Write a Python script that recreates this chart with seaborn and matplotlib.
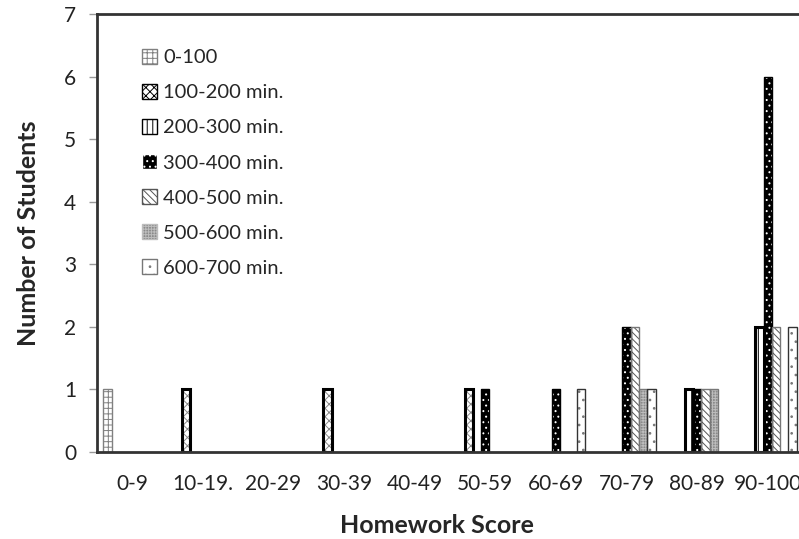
import matplotlib
matplotlib.use("Agg")
import matplotlib.pyplot as plt
from matplotlib.patches import Rectangle
import seaborn as sns
import pandas as pd

scores = ["0-9", "10-19.", "20-29", "30-39", "40-49",
          "50-59", "60-69", "70-79", "80-89", "90-100"]
times = ["0-100", "100-200 min.", "200-300 min.", "300-400 min.",
         "400-500 min.", "500-600 min.", "600-700 min."]

t0_100 = [1, 0, 0, 0, 0, 0, 0, 0, 0, 0]
t100_200 = [0, 1, 0, 1, 0, 1, 0, 0, 0, 0]
t200_300 = [0, 0, 0, 0, 0, 0, 0, 0, 1, 2]
t300_400 = [0, 0, 0, 0, 0, 1, 1, 2, 1, 6]
t400_500 = [0, 0, 0, 0, 0, 0, 0, 2, 1, 2]
t500_600 = [0, 0, 0, 0, 0, 0, 0, 1, 1, 0]
t600_700 = [0, 0, 0, 0, 0, 0, 1, 1, 0, 2]

series = [t0_100, t100_200, t200_300, t300_400, t400_500, t500_600, t600_700]

rows = []
for name, vals in zip(times, series):
    for s, v in zip(scores, vals):
        rows.append({"score": s, "time": name, "count": v})
df = pd.DataFrame(rows)

sns.set_theme(style="white")
plt.rcParams["font.family"] = ["Lato", "DejaVu Sans"]
plt.rcParams["hatch.linewidth"] = 0.7

# face, hatch, hatch colour, outline colour, outline width
styles = [
    ("white", "---|||", "#808080", "#808080", 1.0),
    ("white", "xxxx", "#8a8a8a", "black", 2.2),
    ("white", "|||", "black", "black", 2.2),
    ("black", "...", "white", "black", 1.0),
    ("white", "\\\\\\\\\\", "#555555", "#777777", 1.0),
    ("#8a8a8a", "++++++", "#bdbdbd", "#777777", 1.0),
    ("white", "..", "#777777", "#333333", 1.0),
]

fig = plt.figure(figsize=(7.99, 5.39), dpi=100)
ax = fig.add_axes([97 / 799, 1 - 452 / 539, 706 / 799, 438 / 539])

sns.barplot(data=df, x="score", y="count", hue="time", hue_order=times,
            order=scores, width=0.824, gap=0, dodge=True, ax=ax,
            legend=False, errorbar=None)

handles = []
for cont, (fc, hatch, hc, ec, lw) in zip(ax.containers, styles):
    for p in cont.patches:
        p.set_facecolor(fc)
        p.set_hatch(hatch)
        p.set_edgecolor(hc)
        p.set_linewidth(0)
        if p.get_height() > 0:
            ax.add_patch(Rectangle(p.get_xy(), p.get_width(), p.get_height(),
                                   fill=False, edgecolor=ec, linewidth=lw,
                                   zorder=p.get_zorder() + 0.1))
    handles.append(Rectangle((0, 0), 1, 1, facecolor=fc, hatch=hatch,
                             edgecolor=ec if lw > 1 else hc, linewidth=1))

ax.set_xlim(-0.5, 9.5)
ax.set_ylim(0, 7)
ax.set_yticks(range(0, 8))
ax.set_xticks(range(10))
ax.set_xticklabels(scores)
ax.set_xticks([i - 0.5 for i in range(11)], minor=True)
ax.tick_params(axis="x", which="major", length=0, pad=16, labelsize=15, colors="#222222")
ax.tick_params(axis="x", which="minor", length=6, width=1, color="#999999", direction="out")
ax.tick_params(axis="y", length=6, width=1, color="#999999", direction="out",
               left=True, labelsize=15, pad=9, colors="#222222")

for side in ["left", "top", "bottom"]:
    ax.spines[side].set_color("#333333")
    ax.spines[side].set_linewidth(2)
ax.spines["right"].set_visible(False)

ax.set_xlabel("Homework Score", fontsize=18, fontweight="bold")
ax.xaxis.set_label_coords(0.481, -0.142)
ax.set_ylabel("Number of Students", fontsize=18, fontweight="bold", labelpad=17)

ax.legend(handles, times, loc="upper left", bbox_to_anchor=(0.038, 0.962),
          frameon=False, fontsize=14.5, handlelength=0.75, handleheight=0.75,
          handletextpad=0.3, labelspacing=0.88)

fig.savefig("out.png", dpi=100)
